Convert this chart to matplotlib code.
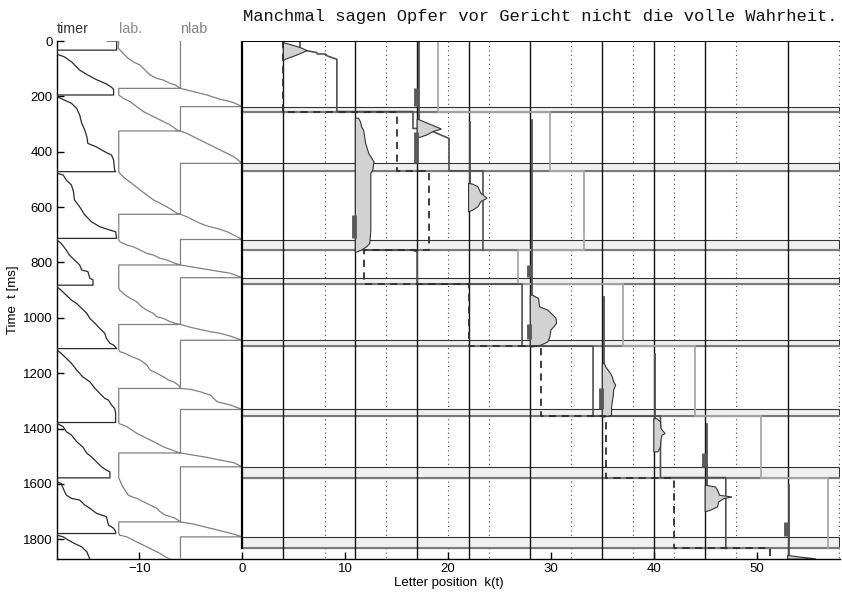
import matplotlib
matplotlib.use('Agg')
import matplotlib.pyplot as plt
from matplotlib.patches import Rectangle, Polygon
import matplotlib.transforms as mtransforms

plt.rcParams['font.family'] = ['Liberation Sans', 'DejaVu Sans']

# ---------------- data ----------------
sentence = "Manchmal sagen Opfer vor Gericht nicht die volle Wahrheit."
word_centers = [4, 11, 17, 22, 28, 35, 40, 45, 53]
word_bounds = [8, 14, 20, 24, 32, 38, 42, 48, 58]

saccade_start = [237, 442, 717, 855, 1081, 1331, 1538, 1791]
saccade_end = [255, 469, 755, 878, 1102, 1355, 1577, 1833]

# fixated letter position in each fixation (dashed)
eye_pos = [4, 15, 18.2, 11.8, 22, 29, 35.4, 42, 51.3]

# saccade-target markers (thick bars on word centres)
bar_x = [17, 17, 11, 28, 28, 35, 45, 53]
bar_t0 = [171, 328, 629, 808, 1023, 1255, 1489, 1737]
bar_t1 = [233, 442, 713, 853, 1076, 1330, 1540, 1788]

# timer random walk (x, t)
timer_x = [-13.1, -12.2, -12.2, -18, -18,
           -17.3, -16.6, -15.8, -15.0, -14.2, -13.2, -12.7, -12.5, -12.5, -18, -18,
           -17.3, -16.6, -16.1, -15.8, -15.6, -15.3, -15.1, -15.0, -14.2, -13.35, -12.7, -12.5, -12.4, -12.3, -18, -18,
           -17.4, -17.1, -16.6, -16.4, -16.3, -15.8, -15.3, -14.65, -13.84, -12.86, -12.3, -12.2, -18, -18,
           -17.6, -17.1, -16.8, -16.3, -15.8, -15.6, -15.0, -14.8, -14.5, -14.5, -18, -18,
           -17.6, -17.1, -16.6, -16.1, -15.6, -15.1, -14.8, -14.3, -13.84, -13.35, -13.2, -12.86, -12.5, -12.2, -18, -18,
           -17.6, -17.1, -16.6, -16.1, -15.5, -14.8, -14.3, -13.84, -13.35, -13.0, -12.7, -12.4, -12.3, -12.3, -18, -18,
           -17.4, -17.1, -16.6, -16.1, -15.5, -15.1, -14.65, -14.16, -13.67, -13.2, -12.86, -12.86, -18, -18,
           -17.6, -17.4, -17.1, -16.6, -15.8, -15.3, -14.8, -14.16, -13.2, -13.0, -12.5, -12.3, -12.3, -18, -18,
           -17.4, -16.9, -16.3, -15.6, -15.1, -14.9, -14.8]
timer_t = [0, 0, 33, 33, 48,
           57, 75, 105, 123, 139, 155, 167, 175, 195, 195, 201,
           213, 225, 243, 267, 297, 322, 346, 370, 382, 400, 412, 430, 466, 472, 472, 478,
           484, 502, 520, 544, 574, 599, 628, 653, 671, 683, 689, 713, 713, 719,
           731, 755, 773, 791, 809, 827, 833, 857, 863, 882, 882, 888,
           900, 918, 936, 948, 966, 984, 1002, 1020, 1038, 1056, 1074, 1092, 1098, 1111, 1111, 1116,
           1128, 1146, 1164, 1188, 1213, 1231, 1255, 1273, 1291, 1297, 1315, 1327, 1345, 1378, 1378, 1381,
           1393, 1411, 1423, 1447, 1466, 1489, 1502, 1520, 1538, 1550, 1556, 1578, 1578, 1592,
           1598, 1616, 1640, 1652, 1658, 1676, 1688, 1706, 1718, 1748, 1760, 1772, 1779, 1779, 1785,
           1791, 1803, 1815, 1827, 1845, 1863, 1872]

# labile stage random walk
lab_x = [-12.2, -12.0, -12.05, -11.56, -11.07, -10.6, -9.93, -9.44, -8.95, -8.3, -7.66, -7.0, -6.5, -6.0, -12,
         -12, -11.56, -10.9, -10.25, -9.6, -8.95, -8.3, -7.66, -7.0, -6.35, -6.0, -12,
         -12, -11.9, -11.4, -10.74, -9.93, -9.28, -8.63, -7.98, -7.32, -6.84, -6.35, -6.0, -12,
         -12, -11.9, -11.2, -10.6, -9.93, -9.28, -8.63, -7.98, -7.32, -6.68, -6.0, -12,
         -12, -11.9, -11.4, -10.9, -10.25, -9.77, -9.28, -8.63, -8.3, -7.66, -7.0, -6.5, -6.0, -12,
         -12, -11.9, -11.4, -10.74, -9.93, -9.28, -8.95, -8.3, -7.66, -7.17, -6.68, -6.19, -6.0, -12,
         -12, -11.9, -11.2, -10.74, -10.25, -9.6, -8.95, -8.3, -7.66, -7.0, -6.35, -6.0, -12,
         -12, -11.9, -11.7, -11.4, -11.07, -10.74, -10.25, -9.6, -8.95, -8.3, -7.98, -7.5, -7.0, -6.5, -6.0, -12,
         -12, -11.9, -11.2, -10.6, -9.93, -9.28, -8.63, -7.98, -7.5, -7.0]
lab_t = [0, 2, 26, 45, 63, 75, 87, 105, 123, 135, 141, 153, 159, 171, 171,
         195, 207, 219, 237, 255, 267, 279, 291, 303, 321, 325, 325,
         472, 478, 496, 514, 538, 556, 574, 586, 599, 610, 622, 626, 626,
         719, 725, 737, 743, 755, 767, 773, 785, 791, 801, 809, 809,
         893, 900, 917, 929, 942, 960, 972, 984, 996, 1002, 1014, 1020, 1024, 1024,
         1116, 1122, 1128, 1140, 1152, 1170, 1188, 1200, 1213, 1225, 1231, 1243, 1255, 1255,
         1378, 1383, 1393, 1405, 1417, 1429, 1441, 1453, 1466, 1475, 1484, 1488, 1488,
         1580, 1586, 1604, 1622, 1640, 1646, 1652, 1664, 1676, 1688, 1700, 1712, 1718, 1724, 1737, 1737,
         1779, 1785, 1791, 1803, 1815, 1827, 1839, 1851, 1863, 1872]

# non-labile stage random walk
nlab_x = [-6, -6, -5.37, -4.72, -4.07, -3.42, -2.77, -2.12, -1.46, -0.82, 0, -6,
          -6, -5.37, -4.72, -4.07, -3.42, -2.77, -2.12, -1.46, -0.82, 0, -6,
          -6, -5.37, -4.72, -4.07, -3.42, -2.44, -1.46, -0.82, 0, -6,
          -6, -5.05, -4.07, -3.1, -2.12, -1.14, 0, -6,
          -6, -5.05, -4.07, -3.1, -2.12, -1.14, 0, -6,
          -6, -5.05, -4.07, -3.1, -2.44, -1.14, 0, -6,
          -6, -4.72, -3.42, -2.12, -0.82, 0, -6,
          -6, -4.72, -3.42, -2.12, -0.82, 0, -6, -6]
nlab_t = [0, 171, 177, 183, 189, 195, 203, 211, 216, 223, 237, 237,
          325, 334, 346, 358, 370, 382, 394, 406, 418, 442, 442,
          626, 635, 647, 659, 668, 677, 689, 701, 717, 717,
          809, 815, 821, 827, 833, 839, 855, 855,
          1024, 1034, 1042, 1050, 1056, 1066, 1081, 1081,
          1255, 1258, 1267, 1279, 1303, 1315, 1331, 1331,
          1488, 1496, 1504, 1514, 1523, 1538, 1538,
          1737, 1745, 1757, 1769, 1781, 1791, 1791, 1872]

# light-grey trace in the main panel
light_x = [19, 19, 29.9, 29.9, 33.2, 33.2, 26.8, 26.8, 37.0, 37.0, 44.0, 44.0, 50.4, 50.4, 56.9, 56.9]
light_t = [0, 255, 255, 469, 469, 755, 755, 878, 878, 1102, 1102, 1355, 1355, 1577, 1577, 1833]

# dark-grey traces in the main panel
dark1_x = [5.6, 5.6]
dark1_t = [0, 26]
dark2_x = [6.3, 7.26, 7.3, 8.06, 8.29, 9.2, 9.2, 16.6, 16.6, 17.1]
dark2_t = [35, 42, 47, 47, 54, 66, 255, 255, 316, 316]
dark3_x = [18.4, 20.1, 20.1, 23.4, 23.4]
dark3_t = [325, 352, 469, 469, 755]
dark4_x = [12.1, 16.5, 17.0, 17.0, 27.2, 27.2, 34.1, 34.1, 40.65, 40.65, 47.0, 47.0]
dark4_t = [755, 755, 761, 878, 878, 1102, 1102, 1355, 1355, 1577, 1577, 1833]

# pre-activation lines at word centres (x, t start, t end)
pre_x = [17, 22, 28, 35, 40, 45, 53]
pre_t0 = [0, 292, 285, 924, 1129, 1382, 1605]
pre_t1 = [283, 514, 918, 1165, 1364, 1605, 1858]

# activation profiles (x, t) per word
act1_x = [4, 5.16, 5.8, 6.3, 5.3, 4.2, 4]
act1_t = [6, 18, 26, 35, 51, 66, 71]
act2_x = [11, 11.3, 11.5, 11.6, 11.8, 11.9, 12.0, 12.3, 12.6, 12.8, 12.7, 12.5, 12.5, 12.5, 12.4, 12.1, 11.6, 11.0]
act2_t = [279, 279, 292, 310, 322, 346, 370, 406, 424, 436, 466, 478, 562, 683, 731, 743, 755, 764]
act3_x = [17, 17.1, 18.2, 19.36, 18.55, 17.9, 17.26, 17]
act3_t = [283, 283, 300, 318, 327, 340, 348, 348]
act4_x = [22, 22.4, 22.9, 23.2, 23.8, 23.2, 22.9, 22.4, 22]
act4_t = [514, 517, 526, 550, 568, 580, 599, 611, 617]
act5_x = [28, 28.2, 28.8, 28.9, 29.7, 30.2, 30.5, 30.55, 30.3, 30.0, 29.9, 29.7, 29.0, 28.2, 28]
act5_t = [918, 918, 930, 960, 972, 990, 1002, 1020, 1032, 1044, 1069, 1087, 1099, 1105, 1105]
act6_x = [35, 35.2, 35.33, 35.8, 35.97, 36.1, 36.3, 36.1, 36.07, 35.97, 35.9, 35.9, 35.9, 35.2, 35]
act6_t = [1165, 1165, 1177, 1201, 1213, 1231, 1243, 1261, 1279, 1304, 1322, 1340, 1352, 1358, 1358]
act7_x = [40, 40.3, 40.65, 40.7, 40.97, 41.1, 40.8, 40.7, 40.65, 40.4, 40]
act7_t = [1364, 1364, 1376, 1400, 1412, 1418, 1424, 1442, 1466, 1484, 1484]
act8_x = [45, 45.1, 46.0, 46.2, 46.4, 47.6, 46.8, 46.3, 46.2, 45.5, 45]
act8_t = [1605, 1605, 1611, 1623, 1641, 1647, 1653, 1665, 1683, 1695, 1701]
act9_x = [53, 54.2, 55.7, 55.7, 53]
act9_t = [1858, 1864, 1870, 1871, 1871]

xticks = [-10, 0, 10, 20, 30, 40, 50]
yticks = [0, 200, 400, 600, 800, 1000, 1200, 1400, 1600, 1800]

# ---------------- figure ----------------
fig = plt.figure(figsize=(8.42, 5.93), dpi=100)
ax = fig.add_axes([57 / 842, 1 - 559 / 593, 783 / 842, 518 / 593])
ax.set_xlim(-18, 58.1)
ax.set_ylim(1871, 0)
XMAX = 58

# dotted word boundaries
for xb in word_bounds:
    ax.plot([xb, xb], [0, 1871], color='#444444', lw=0.8, ls=(0, (1, 3)), zorder=1)

# saccade bands
for s, e in zip(saccade_start, saccade_end):
    ax.add_patch(Rectangle((0, s), XMAX, e - s, facecolor='#f0f0f0',
                           edgecolor='#333333', lw=0.8, zorder=2))
    ax.plot([0, XMAX], [e, e], color='#7a7a7a', lw=1.5, zorder=2.1)

# word centre lines
for xc in word_centers:
    ax.plot([xc, xc], [0, 1871], color='#111111', lw=1.0, zorder=3)

# frame of main panel
ax.plot([0, XMAX], [0, 0], color='black', lw=1.4, zorder=7)
ax.plot([0, 0], [0, saccade_end[-1]], color='black', lw=1.6, zorder=7)

# left panel traces
ax.plot(timer_x, timer_t, color='#2a2a2a', lw=0.9, zorder=4)
ax.plot(lab_x, lab_t, color='#808080', lw=0.9, zorder=4)
ax.plot(nlab_x, nlab_t, color='#808080', lw=0.9, zorder=4)

# main panel traces
ax.plot(light_x, light_t, color='#a8a8a8', lw=1.3, zorder=4)
for xs, ts in [(dark1_x, dark1_t), (dark2_x, dark2_t), (dark3_x, dark3_t), (dark4_x, dark4_t)]:
    ax.plot(xs, ts, color='#505050', lw=1.2, zorder=4.5)

for xp, a, b in zip(pre_x, pre_t0, pre_t1):
    ax.plot([xp + 0.15, xp + 0.15], [a, b], color='#505050', lw=1.3, zorder=4.5)

for xs, ts in [(act1_x, act1_t), (act2_x, act2_t), (act3_x, act3_t), (act4_x, act4_t),
               (act5_x, act5_t), (act6_x, act6_t), (act7_x, act7_t), (act8_x, act8_t),
               (act9_x, act9_t)]:
    ax.add_patch(Polygon(list(zip(xs, ts)), closed=True, facecolor='#d2d2d2',
                         edgecolor='#333333', lw=0.8, zorder=5))

for xb, a, b in zip(bar_x, bar_t0, bar_t1):
    ax.plot([xb - 0.15, xb - 0.15], [a, b], color='#5a5a5a', lw=3.5,
            solid_capstyle='butt', zorder=6)

# eye position (dashed step line)
ex, et = [], []
bounds = [0] + saccade_end + [1871]
for i, p in enumerate(eye_pos):
    ex += [p, p]
    et += [bounds[i], bounds[i + 1]]
ax.plot(ex, et, color='#2e2e2e', lw=1.3, ls=(0, (4, 3)), zorder=6)

# axes cosmetics
for sp in ['top', 'right']:
    ax.spines[sp].set_visible(False)
ax.spines['left'].set_linewidth(1.0)
ax.spines['bottom'].set_linewidth(1.0)
ax.set_xticks(xticks)
ax.set_yticks(yticks)
ax.tick_params(direction='in', length=5, width=1.0, labelsize=9.5, pad=3)
ax.set_xlabel('Letter position  k(t)', fontsize=9.5, labelpad=1)
ax.set_ylabel('Time  t [ms]', fontsize=9.5, labelpad=3)

trans = mtransforms.blended_transform_factory(ax.transData, ax.transAxes)
ax.text(0.05, 1.0386, sentence, transform=trans, ha='left', va='baseline',
        fontfamily='Liberation Mono', fontsize=12.35, color='#111111')
ax.text(-18, 1.0154, 'timer', transform=trans, ha='left', va='baseline', fontsize=10.3, color='#333333')
ax.text(-12, 1.0154, 'lab.', transform=trans, ha='left', va='baseline', fontsize=10.3, color='#888888')
ax.text(-6, 1.0154, 'nlab', transform=trans, ha='left', va='baseline', fontsize=10.3, color='#808080')

fig.savefig('out.png', dpi=100)
